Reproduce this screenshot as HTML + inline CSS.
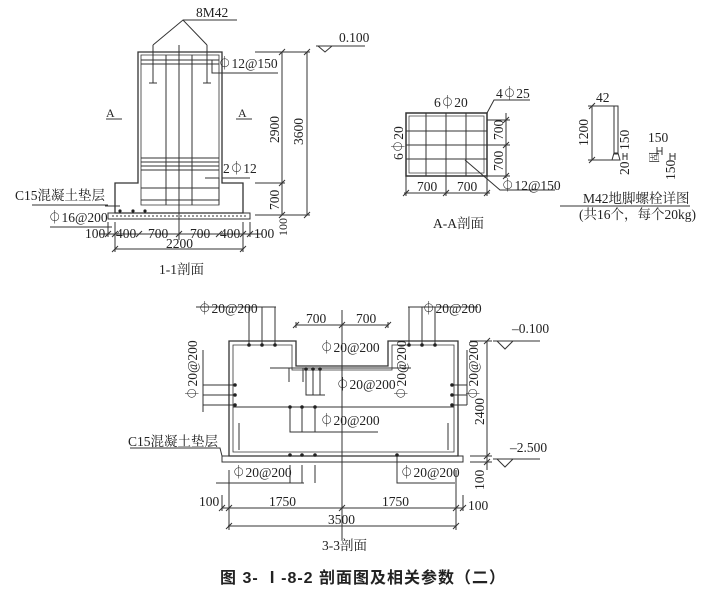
<!DOCTYPE html>
<html><head><meta charset="utf-8"><style>
html,body{margin:0;padding:0;background:#fff;}
svg{display:block;}
text{font-family:"Liberation Serif","Noto Serif CJK SC",serif;fill:#222;font-size:13.5px;}
</style></head><body>
<svg width="723" height="592" viewBox="0 0 723 592" xmlns="http://www.w3.org/2000/svg">
<g stroke="#333" stroke-width="1" fill="none">
<path d="M138 52 H222 V183 H243 V213 H115 V183 H138 Z" stroke-width="1.3"/>
<path d="M141 55 H219 V205 H141 Z" stroke-width="0.8"/>
<rect x="108" y="213" width="142" height="6" stroke-width="1"/>
<line x1="112" y1="216" x2="246" y2="216" stroke-dasharray="2 2"/>
<line x1="141" y1="60" x2="219" y2="60"/><line x1="141" y1="64" x2="219" y2="64"/>
<line x1="141" y1="158" x2="219" y2="158"/><line x1="141" y1="162" x2="219" y2="162"/>
<line x1="141" y1="166" x2="219" y2="166"/><line x1="141" y1="170" x2="219" y2="170"/>
<line x1="141" y1="188" x2="219" y2="188"/><line x1="141" y1="200" x2="219" y2="200"/>
<line x1="166" y1="55" x2="166" y2="205"/><line x1="192" y1="55" x2="192" y2="205"/>
<line x1="179" y1="45" x2="179" y2="240"/>
<line x1="153" y1="45" x2="153" y2="83"/><line x1="149" y1="83" x2="157" y2="83"/>
<line x1="207" y1="45" x2="207" y2="83"/><line x1="203" y1="83" x2="211" y2="83"/>
<path d="M153 45 L183 20 L207 45 M183 20 H237"/>
<path d="M212 60 V73 H278 M212 64 H214"/>
<path d="M205 178 H219 V205 M222 178 H250"/>
<line x1="105" y1="206" x2="120" y2="206"/><line x1="50" y1="227" x2="112" y2="227"/>
<line x1="32" y1="205" x2="108" y2="205"/>
<line x1="282" y1="52" x2="282" y2="215"/><line x1="307" y1="52" x2="307" y2="215"/>
<line x1="255" y1="52" x2="310" y2="52"/><line x1="255" y1="183" x2="285" y2="183"/>
<line x1="255" y1="215" x2="310" y2="215"/>
<path d="M279 55 L285 49 M279 186 L285 180 M279 218 L285 212 M304 55 L310 49 M304 218 L310 212"/>
<path d="M318 46 L325 52 L332 46 Z M316 46 H365"/>
<line x1="100" y1="234" x2="262" y2="234"/><line x1="115" y1="249" x2="243" y2="249"/>
<line x1="115" y1="222" x2="115" y2="252"/><line x1="243" y1="222" x2="243" y2="252"/>
<line x1="108" y1="222" x2="108" y2="237"/><line x1="250" y1="222" x2="250" y2="237"/>
<path d="M105 237 L111 231 M112 237 L118 231 M136 237 L142 231 M176 237 L182 231 M216 237 L222 231 M240 237 L246 231 M247 237 L253 231 M112 252 L118 246 M240 252 L246 246"/>
<line x1="106" y1="119" x2="122" y2="119"/><line x1="236" y1="119" x2="252" y2="119"/>
<rect x="406" y="113" width="81" height="63" stroke-width="1.5"/>
<rect x="409" y="116" width="75" height="57" stroke-width="0.7"/>
<line x1="406" y1="131" x2="487" y2="131"/><line x1="406" y1="145" x2="487" y2="145"/><line x1="406" y1="159" x2="487" y2="159"/>
<line x1="426" y1="113" x2="426" y2="176"/><line x1="446" y1="113" x2="446" y2="176"/><line x1="466" y1="113" x2="466" y2="176"/>
<line x1="487" y1="120" x2="510" y2="120"/><line x1="487" y1="145" x2="510" y2="145"/><line x1="487" y1="176" x2="510" y2="176"/>
<line x1="506" y1="113" x2="506" y2="178"/>
<line x1="406" y1="176" x2="406" y2="196"/><line x1="446" y1="176" x2="446" y2="196"/><line x1="487" y1="176" x2="487" y2="196"/>
<line x1="404" y1="193" x2="490" y2="193"/>
<path d="M403 196 L409 190 M443 196 L449 190 M484 196 L490 190 M503 123 L509 117 M503 148 L509 142 M503 179 L509 173"/>
<path d="M487 113 L494 100 H530"/><path d="M465 160 L500 190 H555"/>
<rect x="614" y="106" width="4" height="48"/><path d="M612 160 L614 153 H618 L620 160 Z"/>
<line x1="592" y1="106" x2="592" y2="160"/><line x1="588" y1="106" x2="614" y2="106"/><line x1="588" y1="160" x2="612" y2="160"/>
<path d="M589 109 L595 103 M589 163 L595 157"/>
<path d="M623 153 V160 M627 153 V160 M623 156 H627 M657 147 V155 M662 147 V155 M657 151 H662 M670 153 V160 M675 153 V160 M670 156 H675"/>
<line x1="560" y1="206" x2="690" y2="206"/>
<path d="M229 341 H296 V366 H388 V341 H458 V456 H229 Z" stroke-width="1.3"/>
<path d="M233 345 H292 V370 H392 V345 H454 V452 H233 Z" stroke-width="0.8"/>
<rect x="222" y="456" width="241" height="6"/>
<path d="M130 448 H220 L222 456"/>
<line x1="342" y1="310" x2="342" y2="540"/>
<line x1="233" y1="407" x2="454" y2="407"/>
<path d="M270 368 H411 M289 368 V382 M303 368 V382"/>
<path d="M306 368 V395 H325 M313 368 V395 M320 368 V395"/>
<path d="M290 407 V432 H378 M302 407 V432 M315 407 V432"/>
<path d="M239 423 V450 M448 423 V450"/>
<path d="M196 307 H276 M249 307 V345 M262 307 V345 M275 307 V345"/>
<path d="M408 307 H478 M409 307 V345 M422 307 V345 M435 307 V345"/>
<path d="M203 350 V412 M203 385 H233 M203 395 H233 M203 405 H233"/>
<path d="M467 350 V405 M454 385 H467 M454 395 H467 M454 405 H467"/>
<path d="M290 465 V483 H304 M302 465 V483 M315 465 V483"/>
<path d="M397 455 V483 H455"/>
<path d="M216 483 H304"/>
<path d="M296 322 V328 M388 322 V328 M296 325 H388"/>
<path d="M293 328 L299 322 M339 328 L345 322 M385 328 L391 322"/>
<line x1="487" y1="341" x2="487" y2="470"/>
<line x1="470" y1="341" x2="492" y2="341"/><line x1="470" y1="456" x2="492" y2="456"/><line x1="470" y1="462" x2="492" y2="462"/>
<path d="M484 344 L490 338 M484 459 L490 453 M484 465 L490 459"/>
<path d="M497 341 L505 349 L513 341 Z M493 341 H540"/>
<path d="M497 459 L505 467 L513 459 Z M493 459 H540"/>
<line x1="222" y1="508" x2="463" y2="508"/><line x1="228" y1="526" x2="456" y2="526"/>
<line x1="222" y1="495" x2="222" y2="511"/><line x1="229" y1="470" x2="229" y2="530"/>
<line x1="456" y1="470" x2="456" y2="530"/><line x1="463" y1="495" x2="463" y2="511"/>
<path d="M219 511 L225 505 M226 511 L232 505 M339 511 L345 505 M453 511 L459 505 M460 511 L466 505 M226 529 L232 523 M453 529 L459 523"/>
</g>
<g fill="#222">
<circle cx="249" cy="345" r="1.8"/><circle cx="262" cy="345" r="1.8"/><circle cx="275" cy="345" r="1.8"/>
<circle cx="409" cy="345" r="1.8"/><circle cx="422" cy="345" r="1.8"/><circle cx="435" cy="345" r="1.8"/>
<circle cx="235" cy="385" r="1.8"/><circle cx="235" cy="395" r="1.8"/><circle cx="235" cy="405" r="1.8"/>
<circle cx="452" cy="385" r="1.8"/><circle cx="452" cy="395" r="1.8"/><circle cx="452" cy="405" r="1.8"/>
<circle cx="306" cy="369" r="1.8"/><circle cx="313" cy="369" r="1.8"/><circle cx="320" cy="369" r="1.8"/>
<circle cx="290" cy="407" r="1.8"/><circle cx="302" cy="407" r="1.8"/><circle cx="315" cy="407" r="1.8"/>
<circle cx="290" cy="455" r="1.8"/><circle cx="302" cy="455" r="1.8"/><circle cx="315" cy="455" r="1.8"/>
<circle cx="397" cy="455" r="1.8"/>
<circle cx="120" cy="211" r="1.6"/><circle cx="133" cy="211" r="1.6"/><circle cx="145" cy="211" r="1.6"/>
</g>
<text x="196" y="17">8M42</text>
<text x="339" y="42">0.100</text>
<text x="218" y="68">⏀12@150</text>
<text x="106" y="117" style="font-size:12px">A</text>
<text x="238" y="117" style="font-size:12px">A</text>
<text x="223" y="173">2⏀12</text>
<text x="15" y="200">C15混凝土垫层</text>
<text x="48" y="222">⏀16@200</text>
<text x="85" y="238">100</text><text x="116" y="238">400</text><text x="148" y="238">700</text><text x="190" y="238">700</text><text x="220" y="238">400</text><text x="254" y="238">100</text>
<text x="166" y="248">2200</text>
<text x="159" y="274">1-1剖面</text>
<text transform="translate(279 143) rotate(-90)">2900</text>
<text transform="translate(303 145) rotate(-90)">3600</text>
<text transform="translate(279 210) rotate(-90)">700</text>
<text transform="translate(287 236) rotate(-90)" style="font-size:12px">100</text>
<text x="434" y="107">6⏀20</text>
<text x="496" y="98">4⏀25</text>
<text transform="translate(403 160) rotate(-90)">6⏀20</text>
<text transform="translate(503 140) rotate(-90)">700</text>
<text transform="translate(503 171) rotate(-90)">700</text>
<text x="417" y="191">700</text><text x="457" y="191">700</text>
<text x="501" y="190">⏀12@150</text>
<text x="433" y="228">A-A剖面</text>
<text x="596" y="102">42</text>
<text transform="translate(588 146) rotate(-90)">1200</text>
<text transform="translate(629 150) rotate(-90)">150</text>
<text transform="translate(629 175) rotate(-90)">20</text>
<text x="648" y="142">150</text>
<text transform="translate(658 163) rotate(-90)" style="font-size:11px">固</text>
<text transform="translate(675 180) rotate(-90)">150</text>
<text x="583" y="203">M42地脚螺栓详图</text>
<text x="579" y="219">(共16个，每个20kg)</text>
<text x="198" y="313">⏀20@200</text>
<text x="422" y="313">⏀20@200</text>
<text x="306" y="323">700</text><text x="356" y="323">700</text>
<text x="320" y="352">⏀20@200</text>
<text x="336" y="389">⏀20@200</text>
<text x="320" y="425">⏀20@200</text>
<text x="128" y="446">C15混凝土垫层</text>
<text x="232" y="477">⏀20@200</text>
<text x="400" y="477">⏀20@200</text>
<text transform="translate(197 400) rotate(-90)">⏀20@200</text>
<text transform="translate(406 400) rotate(-90)">⏀20@200</text>
<text transform="translate(478 400) rotate(-90)">⏀20@200</text>
<text transform="translate(484 425) rotate(-90)">2400</text>
<text transform="translate(484 490) rotate(-90)">100</text>
<text x="512" y="333">–0.100</text>
<text x="510" y="452">–2.500</text>
<text x="199" y="506">100</text><text x="269" y="506">1750</text><text x="382" y="506">1750</text><text x="468" y="510">100</text>
<text x="328" y="524">3500</text>
<text x="322" y="550">3-3剖面</text>
<text x="220" y="583" style="font-family:'Liberation Sans','Noto Sans CJK SC',sans-serif;font-size:16px;font-weight:bold;letter-spacing:1px">图 3- Ⅰ-8-2  剖面图及相关参数（二）</text>
</svg>
</body></html>
